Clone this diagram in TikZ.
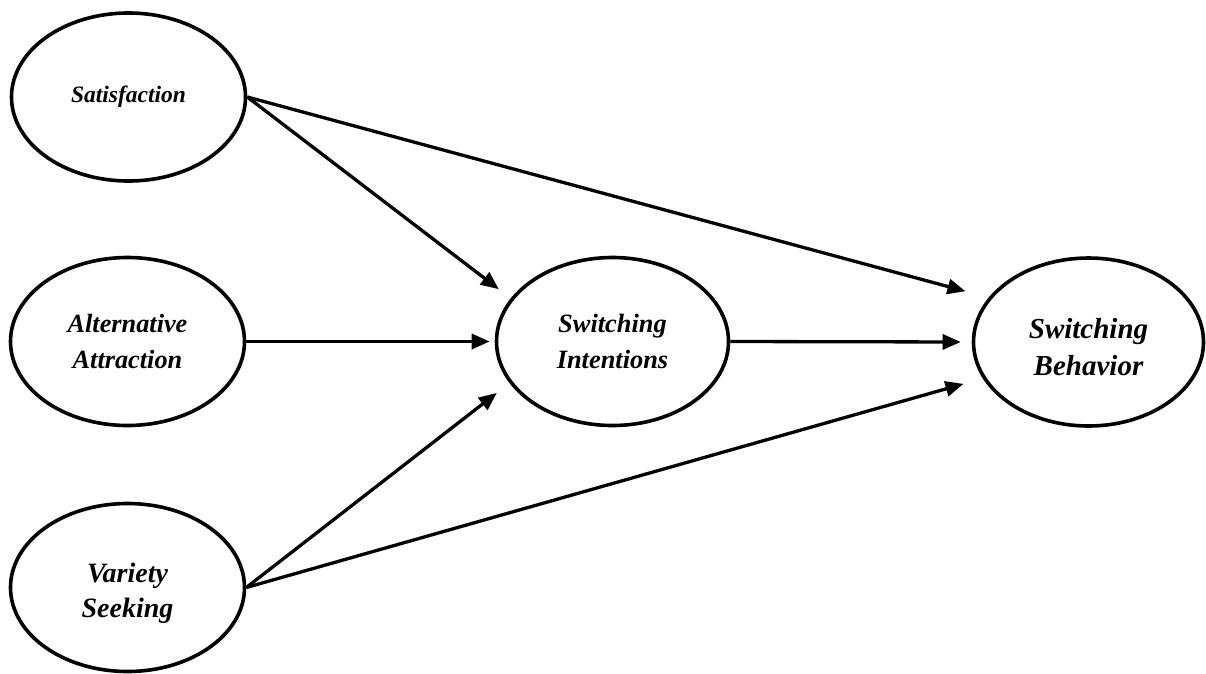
\documentclass[tikz,border=0pt]{standalone}
\usepackage{fontspec}
\setmainfont{Liberation Serif}
\usetikzlibrary{shapes.geometric,arrows.meta}
\begin{document}
\begin{tikzpicture}[x=1pt,y=-1pt,
  construct/.style={ellipse,draw,line width=3.6pt,inner sep=0pt,align=center,minimum height=168pt},
  label text/.style={inner sep=0pt,align=center},
  link/.style={line width=3.3pt,-{Triangle[length=18pt,width=15pt]}}]
\useasboundingbox[fill=white] (0,0) rectangle (1206,673);
\node[construct,minimum width=234pt,font={\bfseries\itshape\fontsize{23.5}{36}\selectfont}] (sat) at (128.5,97) {Satisfaction};
\node[construct,minimum width=234pt,font={\bfseries\itshape\fontsize{26.3}{36}\selectfont}] (alt) at (127.5,341.5) {Alternative\\Attraction};
\node[construct,minimum width=234pt] (var) at (127.5,587.5) {};
\node[label text,font={\bfseries\itshape\fontsize{28}{35}\selectfont}] (vart) at ([yshift=-6pt]var.center) {Variety\\Seeking};
\node[construct,minimum width=232pt,font={\bfseries\itshape\fontsize{26.4}{36}\selectfont}] (si) at (612.5,341.5) {Switching\\Intentions};
\node[construct,minimum width=230pt] (sb) at (1088.5,342) {};
\node[label text,font={\bfseries\itshape\fontsize{29}{37}\selectfont}] (sbt) at ([yshift=-5pt]sb.center) {Switching\\Behavior};
\draw[link,shorten >=15pt] (sat.east) -- (si.157);
\draw[link,shorten >=24pt] (sat.east) -- (sb.156);
\draw[link,shorten >=5pt] (alt.east) -- (si.west);
\draw[link,shorten >=11pt] (si.east) -- (sb.west);
\draw[link,shorten >=16pt] (var.east) -- (si.202);
\draw[link,shorten >=20pt] (var.east) -- (sb.199);
\end{tikzpicture}
\end{document}
